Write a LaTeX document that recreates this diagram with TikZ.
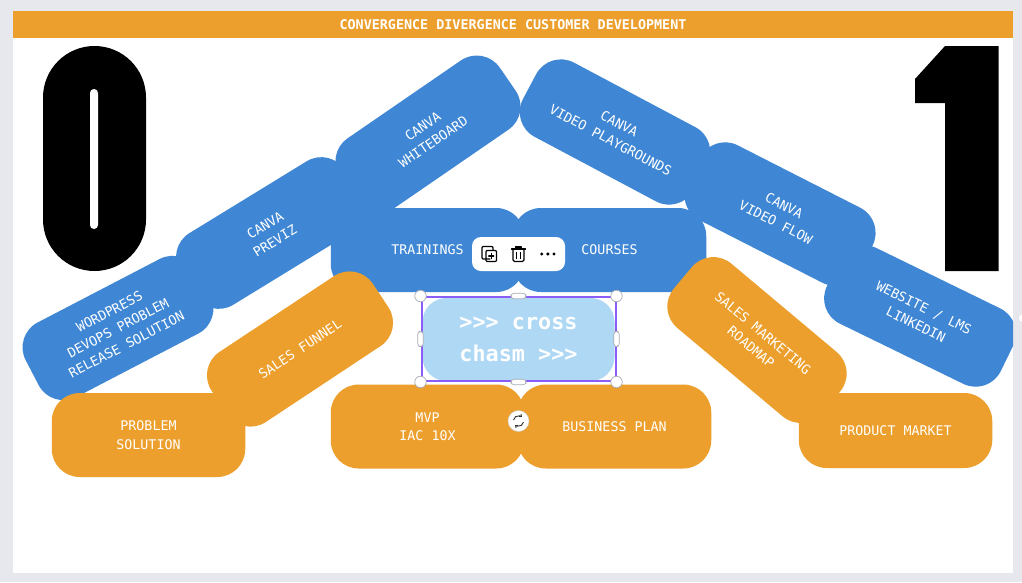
\documentclass[tikz,border=0pt]{standalone}
\usepackage{fontspec}
\usetikzlibrary{arrows.meta}
\setmonofont{DejaVu Sans Mono}
\newfontfamily\digitfont{Liberation Sans Bold}
\definecolor{pagebg}{HTML}{E6E8EE}
\definecolor{blueb}{HTML}{3F87D4}
\definecolor{orangeb}{HTML}{EC9F2C}
\definecolor{chasm}{HTML}{AFD8F5}
\definecolor{selpurple}{HTML}{8B5CF6}
\definecolor{handle}{HTML}{A8ACB4}
\tikzset{
 pill/.style={rectangle,rounded corners=28pt,minimum width=193.5pt,minimum height=84pt,inner sep=0pt,align=center,text=white,font=\ttfamily\fontsize{13.3}{18.5}\selectfont},
 bluepill/.style={pill,fill=blueb},
 orangepill/.style={pill,fill=orangeb},
 cornerh/.style={circle,fill=white,draw=handle,line width=.7pt,minimum size=11.5pt,inner sep=0pt},
 sideh/.style={rectangle,rounded corners=3pt,fill=white,draw=handle,line width=.7pt,inner sep=0pt},
 iconl/.style={draw=black,line width=1.1pt,line join=round,line cap=round}
}
\begin{document}
\begin{tikzpicture}[x=1pt,y=-1pt]
\useasboundingbox (0,0) rectangle (1022,582);
\fill[pagebg] (0,0) rectangle (1022,582);
\fill[white] (12.5,11) rectangle (1013,573);
\fill[orangeb] (12.5,11) rectangle (1013,38);
\node[font=\ttfamily\bfseries\fontsize{13.4}{16}\selectfont,text=white,inner sep=0pt] (title) at (513,24.5) {CONVERGENCE DIVERGENCE CUSTOMER DEVELOPMENT};
% big digits: the display face is heavier than any installed font, so the glyph carries a silhouette
\fill[black] (43,97.5) arc[start angle=180,end angle=0,radius=51.5pt] -- (146,219.5) arc[start angle=0,end angle=-180,radius=51.5pt] -- cycle;
\node[inner sep=0pt,text=black] (zero) at (94.5,158.5) {\scalebox{3.2}[4.5]{\digitfont\fontsize{64}{64}\selectfont 0}};
\fill[white,rounded corners=3.9pt] (90,89) rectangle (98,229);
\fill[black] (945,46) -- (998.5,46) -- (998.5,271) -- (945,271) -- (945,103) -- (915,103) -- (915,79) -- cycle;
\node[inner sep=0pt,text=black] (one) at (972,158.5) {\scalebox{1.6}[4.5]{\digitfont\fontsize{64}{64}\selectfont 1}};
% blue pills
\begin{scope}
\clip (12.5,11) rectangle (1013,573);
\node[bluepill,rotate=-26] (website) at (920,316) {WEBSITE / LMS\\LINKEDIN};
\end{scope}
\node[bluepill,rotate=27.5] (wordpress) at (118,328) {WORDPRESS\\DEVOPS PROBLEM\\RELEASE SOLUTION};
\node[bluepill,rotate=31.5] (previz) at (270,233) {CANVA\\PREVIZ};
\node[bluepill,rotate=34.5] (whiteboard) at (428,134) {CANVA\\WHITEBOARD};
\node[bluepill,rotate=-28] (playgrounds) at (615,132) {CANVA\\VIDEO PLAYGROUNDS};
\node[bluepill,rotate=-27] (flow) at (780,214) {CANVA\\VIDEO FLOW};
\node[bluepill] (trainings) at (427.5,250) {TRAININGS};
\node[bluepill] (courses) at (609.5,250) {COURSES};
% orange pills
\node[orangepill,rotate=33.5] (funnel) at (300,349) {SALES FUNNEL};
\node[orangepill] (problem) at (148.5,435) {PROBLEM\\SOLUTION};
\node[orangepill,rotate=-40] (roadmap) at (757,340) {SALES MARKETING\\ROADMAP};
\node[orangepill] (mvp) at (427.5,426.5) {MVP\\IAC 10X};
\node[orangepill] (bizplan) at (614.5,426.5) {BUSINESS PLAN};
\node[orangepill,minimum height=75pt] (market) at (895.5,430.5) {PRODUCT MARKET};
% selected element
\node[rectangle,rounded corners=24pt,fill=chasm,minimum width=192pt,minimum height=83pt,inner sep=0pt,align=center,text=white,font=\ttfamily\bfseries\fontsize{21.8}{32}\selectfont] (cross) at (518.5,339.5) {>>> cross\\chasm >>>};
\node[draw=selpurple,line width=2pt,minimum width=194pt,minimum height=84pt,inner sep=0pt] (sel) at (518.5,339) {};
\node[cornerh] (h1) at (sel.north west) {};
\node[cornerh] (h2) at (sel.north east) {};
\node[cornerh] (h3) at (sel.south west) {};
\node[cornerh] (h4) at (sel.south east) {};
\node[sideh,minimum width=15pt,minimum height=5.5pt] (h5) at (sel.north) {};
\node[sideh,minimum width=15pt,minimum height=5.5pt] (h6) at (sel.south) {};
\node[sideh,minimum width=5.5pt,minimum height=15pt] (h7) at (sel.west) {};
\node[sideh,minimum width=5.5pt,minimum height=15pt] (h8) at (sel.east) {};
% rotate button
\node[circle,fill=white,draw=handle!60,line width=.4pt,minimum size=21pt,inner sep=0pt] (rotbtn) at (518.5,421) {};
\draw[black!80,line width=.9pt,-{Straight Barb[length=1.8pt,width=3pt]}] (513.5,420) arc[start angle=170,end angle=50,radius=5.2pt];
\draw[black!80,line width=.9pt,-{Straight Barb[length=1.8pt,width=3pt]}] (523.5,422) arc[start angle=350,end angle=230,radius=5.2pt];
% toolbar
\node[rectangle,rounded corners=9pt,fill=white,minimum width=93pt,minimum height=34pt,inner sep=0pt] (toolbar) at (518.5,254) {};
\draw[iconl] (490,259) -- (483,259) -- (482,258) -- (482,247.5) -- (483,246.5) -- (492,246.5) -- (493,247.5) -- (493,250);
\draw[iconl,rounded corners=1pt] (486,250.5) rectangle (496.5,261.5);
\draw[iconl] (491.2,253.5) -- (491.2,258.5) (488.7,256) -- (493.7,256);
\draw[iconl] (511.5,249) -- (525.5,249) (515.5,249) -- (515.5,247) -- (521.5,247) -- (521.5,249);
\draw[iconl,rounded corners=1.5pt] (513,249) -- (513,261.5) -- (524,261.5) -- (524,249);
\draw[iconl] (516.8,252.5) -- (516.8,258.5) (520.2,252.5) -- (520.2,258.5);
\fill[black] (541.7,254) circle (1.7pt) (547.8,254) circle (1.7pt) (554,254) circle (1.7pt);
% edge handle at the right of the canvas
\fill[white] (1023,318) circle (4pt);
\end{tikzpicture}
\end{document}
